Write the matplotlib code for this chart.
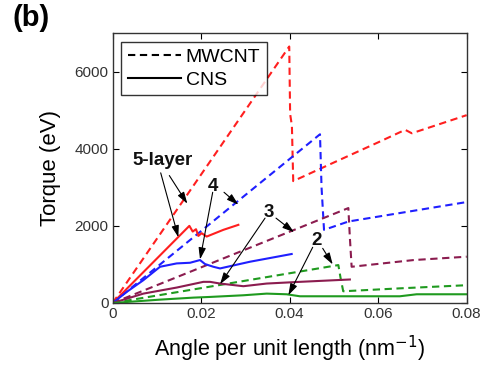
import matplotlib
matplotlib.use("Agg")
import matplotlib.pyplot as plt

plt.rcParams['font.family'] = ['Liberation Sans', 'DejaVu Sans']

# ---- MWCNT (dashed) torque curves ----
mw5_x = [0, 0.0399, 0.0401, 0.0405, 0.0408, 0.050, 0.060, 0.0661, 0.0676, 0.080]
mw5_y = [0, 6650, 4900, 4600, 3160, 3643, 4165, 4490, 4400, 4870]

mw4_x = [0, 0.04685, 0.0472, 0.04776, 0.0533, 0.080]
mw4_y = [0, 4374, 3000, 1896, 2113, 2617]

mw3_x = [0, 0.05326, 0.0536, 0.0540, 0.068, 0.080]
mw3_y = [0, 2461, 1700, 939, 1113, 1200]

mw2_x = [0, 0.0510, 0.0515, 0.0521, 0.065, 0.080]
mw2_y = [0, 983, 650, 304, 380, 461]

# ---- CNS (solid) torque curves ----
cns5_x = [0, 0.01733, 0.01808, 0.01883, 0.01936, 0.02011, 0.02124, 0.0250, 0.0284]
cns5_y = [0, 2000, 1852, 1913, 1739, 1809, 1722, 1896, 2026]

cns4_x = [0, 0.00316, 0.00693, 0.0107, 0.01446, 0.01748, 0.01974, 0.02087,
          0.02275, 0.02426, 0.03104, 0.04045]
cns4_y = [0, 287, 591, 939, 1026, 1043, 1113, 1009, 939, 896, 1070, 1270]

cns3_x = [0, 0.00693, 0.01446, 0.02049, 0.0220, 0.02426, 0.02953, 0.0348,
          0.0423, 0.0536]
cns3_y = [0, 243, 400, 548, 548, 504, 435, 504, 548, 609]

cns2_x = [0, 0.0107, 0.01823, 0.0220, 0.02953, 0.0348, 0.0393, 0.0423,
          0.0649, 0.0687, 0.080]
cns2_y = [0, 87, 139, 157, 200, 243, 226, 174, 174, 226, 226]

colors = {'5': '#ff1f1f', '4': '#1f1fff', '3': '#8b1c4f', '2': '#1f9a1f'}
dash = (0, (3.5, 2.2))

# layer labels and their arrow endpoints (start, tip)
labels = ['5-layer', '4', '3', '2']
label_xy = [(0.01137, 3704), (0.02275, 3026), (0.03533, 2357), (0.0461, 1617)]
arrows = [
    [((0.01085, 3374), (0.01484, 1704)), ((0.0128, 3304), (0.01687, 2574))],
    [((0.0226, 2870), (0.01974, 1130)), ((0.02516, 2870), (0.0284, 2548))],
    [((0.03443, 2200), (0.02426, 487)), ((0.03691, 2200), (0.04098, 1835))],
    [((0.0452, 1444), (0.0397, 200)), ((0.04746, 1417), (0.04972, 1000))],
]

fig = plt.figure(figsize=(4.82, 3.65), dpi=100)
ax = fig.add_axes([0.2338, 0.1699, 0.9682 - 0.2338, 0.9096 - 0.1699])

lw = 1.5
ax.plot(mw5_x, mw5_y, color=colors['5'], lw=lw, ls=dash)
ax.plot(mw4_x, mw4_y, color=colors['4'], lw=lw, ls=dash)
ax.plot(mw3_x, mw3_y, color=colors['3'], lw=lw, ls=dash)
ax.plot(mw2_x, mw2_y, color=colors['2'], lw=lw, ls=dash)

ax.plot(cns5_x, cns5_y, color=colors['5'], lw=lw)
ax.plot(cns4_x, cns4_y, color=colors['4'], lw=lw)
ax.plot(cns3_x, cns3_y, color=colors['3'], lw=lw)
ax.plot(cns2_x, cns2_y, color=colors['2'], lw=lw)

for text, xy, pair in zip(labels, label_xy, arrows):
    ax.text(xy[0], xy[1], text, fontsize=13.5, fontweight='bold',
            ha='center', va='center', color='#111111')
    for start, tip in pair:
        ax.annotate('', xy=tip, xytext=start,
                    arrowprops=dict(arrowstyle='-|>,head_length=0.7,head_width=0.22',
                                    color='black', lw=0.8, shrinkA=0, shrinkB=0))

# legend
h1, = ax.plot([], [], color='black', lw=1.5, ls=dash)
h2, = ax.plot([], [], color='black', lw=1.5)
leg = ax.legend([h1, h2], ['MWCNT', 'CNS'], loc='upper left', fontsize=14,
                frameon=True, fancybox=False, handlelength=2.7, handletextpad=0.25,
                borderpad=0.35, labelspacing=0.25, borderaxespad=0.45)
leg.get_frame().set_edgecolor('black')
leg.get_frame().set_linewidth(1.0)

ax.set_xlim(0, 0.08)
ax.set_ylim(0, 7000)
ax.set_xticks([0, 0.02, 0.04, 0.06, 0.08])
ax.set_xticklabels(['0', '0.02', '0.04', '0.06', '0.08'])
ax.set_yticks([0, 2000, 4000, 6000])
ax.tick_params(direction='in', top=True, right=True, length=4, width=0.8,
               labelsize=11, labelcolor='#333333', pad=3)
for s in ax.spines.values():
    s.set_color('#333333')
    s.set_linewidth(1.0)

ax.set_xlabel('Angle per unit length (nm$^{-1}$)', fontsize=15.5, labelpad=9)
ax.set_ylabel('Torque (eV)', fontsize=16, labelpad=10)

fig.text(0.025, 0.99, '(b)', fontsize=21, fontweight='bold', ha='left', va='top')

fig.savefig('out.png', dpi=100)
